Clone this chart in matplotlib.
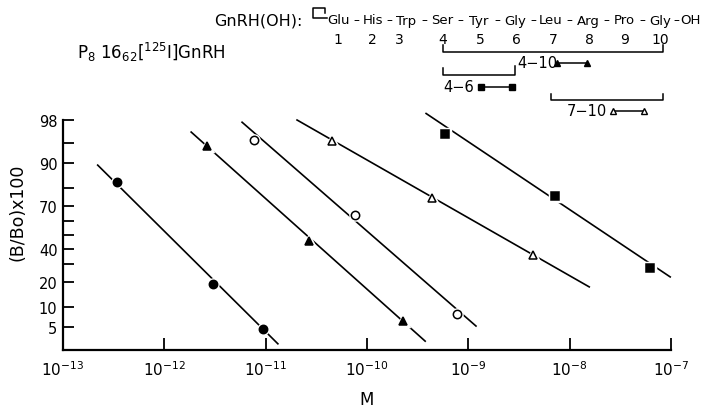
import math
import numpy as np
import matplotlib
matplotlib.use("Agg")
import matplotlib.pyplot as plt
from matplotlib.lines import Line2D
from matplotlib.ticker import NullLocator, FixedLocator, FixedFormatter

# ---- data: concentration (M) vs (B/Bo) x 100 ----
# filled circles
gnrh_x = [3.4e-13, 3.0e-12, 9.4e-12]
gnrh_y = [82.8, 19.1, 4.7]
gnrh_fit_x = [2.2e-13, 1.32e-11]
gnrh_fit_y = [89.4, 2.6]

# filled triangles (4-10)
frag410_x = [2.64e-12, 2.68e-11, 2.27e-10]
frag410_y = [94.4, 45.7, 6.2]
frag410_fit_x = [1.84e-12, 3.75e-10]
frag410_fit_y = [96.7, 2.9]

# open circles
gnrhoh_x = [7.67e-12, 7.64e-11, 7.74e-10]
gnrhoh_y = [95.5, 64.0, 7.9]
gnrhoh_fit_x = [5.85e-12, 1.19e-9]
gnrhoh_fit_y = [97.8, 5.2]

# open triangles (7-10)
frag710_x = [4.52e-11, 4.40e-10, 4.37e-9]
frag710_y = [95.3, 74.6, 36.1]
frag710_fit_x = [2.04e-11, 1.56e-8]
frag710_fit_y = [98.0, 17.7]

# filled squares (4-6)
frag46_x = [5.90e-10, 7.19e-9, 6.24e-8]
frag46_y = [96.4, 75.7, 27.8]
frag46_fit_x = [3.83e-10, 9.82e-8]
frag46_fit_y = [98.5, 22.7]

y_ticks = [5, 10, 20, 30, 40, 50, 60, 70, 80, 90, 95, 98]
y_labels = ["5", "10", "20", "", "40", "", "", "70", "", "90", "", "98"]
x_ticks = [1e-13, 1e-12, 1e-11, 1e-10, 1e-9, 1e-8, 1e-7]
x_labels = [r"$10^{-13}$", r"$10^{-12}$", r"$10^{-11}$", r"$10^{-10}$",
            r"$10^{-9}$", r"$10^{-8}$", r"$10^{-7}$"]

residues = ["Glu", "His", "Trp", "Ser", "Tyr", "Gly", "Leu", "Arg", "Pro", "Gly", "OH"]
positions = ["1", "2", "3", "4", "5", "6", "7", "8", "9", "10"]

plt.rcParams["font.family"] = ["DejaVu Sans"]
plt.rcParams["mathtext.default"] = "regular"

# probability (probit) scale for the y axis
_z = np.linspace(-5, 5, 2001)
_cdf = 0.5 * (1 + np.array([math.erf(v / math.sqrt(2)) for v in _z]))


def probit(p):
    return np.interp(np.asarray(p, dtype=float) / 100.0, _cdf, _z)


def inv_probit(z):
    return 100.0 * np.interp(np.asarray(z, dtype=float), _z, _cdf)


W, H = 704, 410


def fx(px):
    return px / W


def fy(py):
    return 1 - py / H


fig = plt.figure(figsize=(W / 100, H / 100), dpi=100)
ax = fig.add_axes([fx(63), fy(351), 608 / W, 230 / H])
ax.set_xscale("log")
ax.set_yscale("function", functions=(probit, inv_probit))
ax.set_xlim(1e-13, 1e-7)
ax.set_ylim(2, 98)

series = [
    (gnrh_x, gnrh_y, gnrh_fit_x, gnrh_fit_y, "o", "black"),
    (frag410_x, frag410_y, frag410_fit_x, frag410_fit_y, "^", "black"),
    (gnrhoh_x, gnrhoh_y, gnrhoh_fit_x, gnrhoh_fit_y, "o", "white"),
    (frag710_x, frag710_y, frag710_fit_x, frag710_fit_y, "^", "white"),
    (frag46_x, frag46_y, frag46_fit_x, frag46_fit_y, "s", "black"),
]

for x, y, lx, ly, m, fc in series:
    ax.plot(lx, ly, color="black", lw=1.2, clip_on=False, zorder=2)
    # white halo so the line breaks around the symbol, as in the print
    ax.plot(x, y, ls="none", marker=m, ms=6.5, mfc="white", mec="white",
            mew=2.5, clip_on=False, zorder=3)
    ax.plot(x, y, ls="none", marker=m, ms=6, mfc=fc, mec="black",
            mew=1.1, clip_on=False, zorder=4)

# axes styling
for s in ["top", "right"]:
    ax.spines[s].set_visible(False)
for s in ["left", "bottom"]:
    ax.spines[s].set_linewidth(1.6)

ax.xaxis.set_major_locator(FixedLocator(x_ticks))
ax.xaxis.set_major_formatter(FixedFormatter(x_labels))
ax.xaxis.set_minor_locator(NullLocator())
ax.yaxis.set_major_locator(FixedLocator(y_ticks))
ax.yaxis.set_major_formatter(FixedFormatter(y_labels))
ax.yaxis.set_minor_locator(NullLocator())

ax.tick_params(axis="x", direction="in", length=9, width=1.3, pad=7, labelsize=11)
ax.tick_params(axis="y", direction="in", length=8, width=1.3, pad=4, labelsize=10.5)

ax.set_xlabel("M", fontsize=12)
ax.xaxis.set_label_coords(0.5, (351 - 400) / 230)
ax.xaxis.label.set_verticalalignment("center")
ax.set_ylabel("(B/Bo)x100", fontsize=12.5)
ax.yaxis.set_label_coords((18 - 63) / 608, (351 - 212) / 230)
ax.yaxis.label.set_verticalalignment("center")

# ---- header: sequence and fragment key ----
fig.text(fx(77), fy(52), r"P$_8$ 16$_{62}$[$^{125}$I]GnRH", fontsize=12,
         va="center", ha="left")
fig.text(fx(214), fy(21), "GnRH(OH):", fontsize=11.5, va="center", ha="left")

# pyroglutamyl bracket
fig.add_artist(Line2D([fx(325), fx(325), fx(313), fx(313), fx(327)],
                      [fy(14), fy(9), fy(9), fy(19), fy(19)],
                      color="black", lw=1.1))

res_x = [339, 373, 406, 442, 479, 515, 551, 588, 624, 660, 690]
num_x = [338, 372, 399, 443, 480, 516, 553, 589, 625, 660]
for i, name in enumerate(residues):
    fig.text(fx(res_x[i]), fy(21), name, fontsize=9.5, ha="center", va="center")
    if i < len(residues) - 1:
        mid = (res_x[i] + res_x[i + 1]) / 2
        if i == len(residues) - 2:
            mid += 1
        fig.text(fx(mid), fy(21), "\u2013", fontsize=8.5, ha="center", va="center")
for i, n in enumerate(positions):
    fig.text(fx(num_x[i]), fy(40), n, fontsize=10, ha="center", va="center")


def bracket(x0, x1, ytop0, ytop1, ybot):
    fig.add_artist(Line2D([fx(x0), fx(x0), fx(x1), fx(x1)],
                          [fy(ytop0), fy(ybot), fy(ybot), fy(ytop1)],
                          color="black", lw=1.1))


def key(x0, x1, yy, m, fc):
    fig.add_artist(Line2D([fx(x0), fx(x1)], [fy(yy), fy(yy)], color="black",
                          lw=1.1, marker=m, ms=4.5, mfc=fc, mec="black", mew=1))


bracket(443, 663, 46, 46, 53)
fig.text(fx(517), fy(64), "4\u221210", fontsize=10.5, ha="left", va="center")
key(557, 587, 64, "^", "black")

bracket(443, 515, 69, 67, 76)
fig.text(fx(443), fy(88), "4\u22126", fontsize=10.5, ha="left", va="center")
key(481, 512, 88, "s", "black")

bracket(551, 663, 95, 95, 101)
fig.text(fx(567), fy(112), "7\u221210", fontsize=10.5, ha="left", va="center")
key(613, 644, 112, "^", "white")

fig.savefig("out.png", dpi=100)
